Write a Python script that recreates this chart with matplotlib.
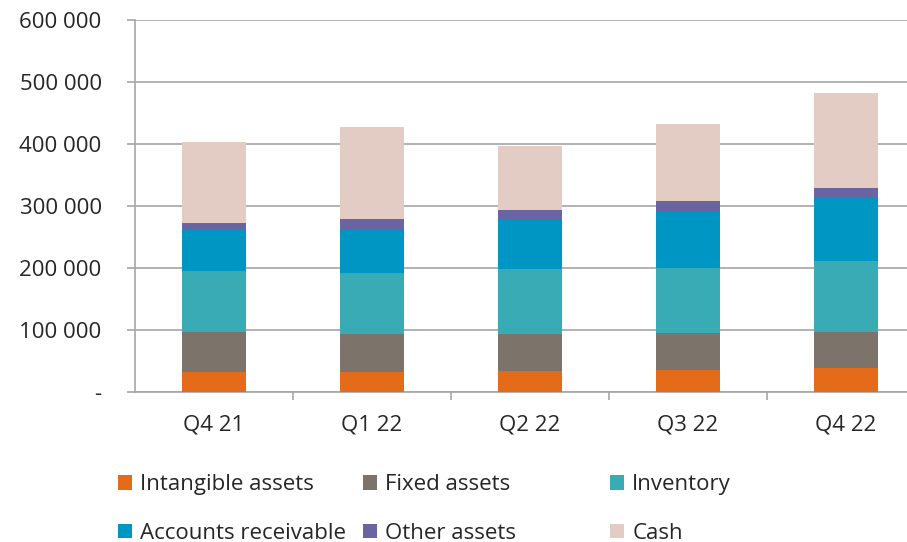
import numpy as np
import matplotlib.pyplot as plt
from matplotlib.ticker import FuncFormatter

plt.rcParams['font.family'] = ['Open Sans', 'DejaVu Sans']

# Dane
quarters = ["Q4 21", "Q1 22", "Q2 22", "Q3 22", "Q4 22"]
intangible = [33400, 33400, 34500, 35600, 39400]
fixed = [63200, 60000, 58900, 60000, 57200]
inventory = [98400, 98300, 104800, 104200, 114600]
receivable = [67600, 69300, 78900, 92900, 102100]
other = [10700, 18300, 16700, 15200, 16700]
cash = [130700, 148700, 104200, 125300, 153000]

series = [intangible, fixed, inventory, receivable, other, cash]
labels = ["Intangible assets", "Fixed assets", "Inventory",
          "Accounts receivable", "Other assets", "Cash"]
colors = ["#E46B1A", "#7C746A", "#38ABB5", "#0096C4", "#6A64A2", "#E2CCC4"]

text_col = "#262626"
grid_col = "#A6A6A6"
W, H = 907, 542

fig = plt.figure(figsize=(W / 100, H / 100), dpi=100)
ax = fig.add_axes([135 / W, 1 - 392.3 / H, 790 / W, (392.3 - 20.3) / H])

x = np.arange(len(quarters))
bottom = np.zeros(len(quarters))
bars = []
for vals, lab, col in zip(series, labels, colors):
    b = ax.bar(x, vals, 0.4, bottom=bottom, color=col, label=lab, zorder=3)
    bars.append(b)
    bottom += np.array(vals)

ax.set_xlim(-0.5, len(quarters) - 0.5)
ax.set_ylim(0, 600000)
ax.set_yticks(np.arange(0, 600001, 100000))
ax.yaxis.set_major_formatter(FuncFormatter(
    lambda v, p: "-" if v == 0 else f"{v:,.0f}".replace(",", " ")))
ax.grid(axis="y", color=grid_col, linewidth=1.2, zorder=0)

ax.set_xticks(x)
ax.set_xticklabels(quarters)
ax.set_xticks(np.arange(0.5, len(quarters) - 0.5, 1), minor=True)
ax.tick_params(axis="x", which="major", length=0, pad=16, labelsize=16, labelcolor=text_col)
ax.tick_params(axis="x", which="minor", length=6, width=1.2, color=grid_col, direction="out")
ax.tick_params(axis="y", length=6, width=1.2, color=grid_col, pad=18, labelsize=16, labelcolor=text_col)

for s in ["top", "right"]:
    ax.spines[s].set_visible(False)
for s in ["left", "bottom"]:
    ax.spines[s].set_color(grid_col)
    ax.spines[s].set_linewidth(1.2)

# Legenda w trzech kolumnach
col_x = [118, 363, 610]
for i in range(3):
    hs = [bars[i], bars[i + 3]]
    ls = [labels[i], labels[i + 3]]
    fig.legend(hs, ls, loc="upper left", bbox_to_anchor=(col_x[i] / W, 1 - 474 / H),
               frameon=False, fontsize=16, labelcolor=text_col, borderpad=0,
               borderaxespad=0, handlelength=0.65, handleheight=0.65,
               handletextpad=0.35, labelspacing=1.25)

fig.savefig("out.png", dpi=100)
